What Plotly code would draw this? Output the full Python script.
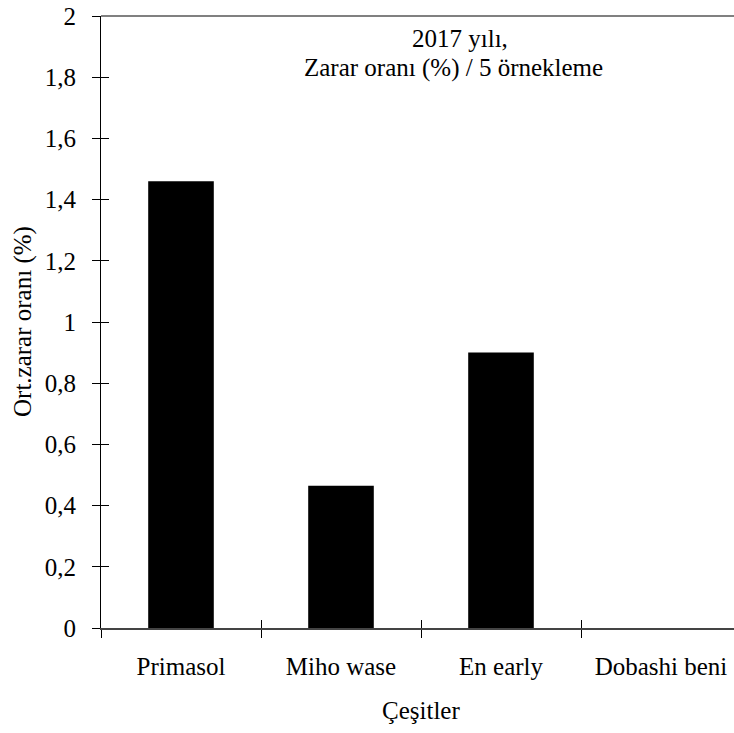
import plotly.graph_objects as go

categories = ["Primasol", "Miho wase", "En early", "Dobashi beni"]
values = [1.46, 0.465, 0.90, 0.0]
y_ticks = [0, 0.2, 0.4, 0.6, 0.8, 1.0, 1.2, 1.4, 1.6, 1.8, 2.0]
y_ticktext = ["0", "0,2", "0,4", "0,6", "0,8", "1", "1,2", "1,4", "1,6", "1,8", "2"]
annot_line1 = "2017 yılı,"
annot_line2 = "Zarar oranı (%) / 5 örnekleme"
y_title = "Ort.zarar oranı (%)"
x_title = "Çeşitler"

W, H = 734, 733
ML, MT = 101, 16
MB = H - 628
cat_px = 160.0
plot_w = W - ML
plot_h = H - MT - MB
x_range = [-0.5, -0.5 + plot_w / cat_px]
y_range = [0, 2]
FONT = dict(family="Liberation Serif, Times New Roman, serif", size=25, color="black")


def px_x(sx):
    return (sx - ML) / plot_w


def px_y(sy):
    return 1 - (sy - MT) / plot_h


fig = go.Figure()
fig.add_trace(go.Bar(x=categories, y=values, width=0.41,
                     marker=dict(color="black", line=dict(width=0)),
                     showlegend=False, hoverinfo="skip"))
# invisible copy on overlay axes to draw the inner half of the crossing ticks
fig.add_trace(go.Bar(x=categories, y=values, width=0.41, opacity=0,
                     xaxis="x2", yaxis="y2", showlegend=False, hoverinfo="skip"))

fig.update_layout(
    template="none",
    width=W, height=H,
    margin=dict(l=ML, r=0, t=MT, b=MB, pad=0, autoexpand=False),
    paper_bgcolor="white", plot_bgcolor="white",
    font=FONT,
    xaxis=dict(type="category", categoryorder="array", categoryarray=categories,
               range=x_range, tickson="boundaries", ticks="outside", ticklen=8,
               tickwidth=1, tickcolor="black", showline=True, linecolor="#444444",
               linewidth=2, showgrid=False, zeroline=False, tickfont=FONT,
               ticklabelstandoff=15, ticklabeloverflow="allow", automargin=False),
    yaxis=dict(range=y_range, tickvals=y_ticks, ticktext=y_ticktext,
               ticks="outside", ticklen=8, tickwidth=1, tickcolor="black",
               showline=True, linecolor="black", linewidth=1, showgrid=False,
               zeroline=False, tickfont=FONT, ticklabelstandoff=11,
               ticklabeloverflow="allow", automargin=False),
    xaxis2=dict(type="category", categoryorder="array", categoryarray=categories,
                range=x_range, overlaying="x", anchor="y2", side="bottom",
                tickson="boundaries", ticks="inside", ticklen=8, tickwidth=1,
                tickcolor="black", showticklabels=False, showline=False,
                showgrid=False, zeroline=False, automargin=False),
    yaxis2=dict(range=y_range, tickvals=y_ticks, overlaying="y", anchor="x2",
                side="left", ticks="inside", ticklen=8, tickwidth=1,
                tickcolor="black", showticklabels=False, showline=False,
                showgrid=False, zeroline=False, automargin=False),
    shapes=[dict(type="line", xref="x domain", yref="y domain", x0=0, x1=1,
                 y0=1, y1=1, line=dict(color="#808080", width=2), layer="below")],
    annotations=[
        dict(text=annot_line1, xref="paper", yref="paper",
             x=px_x(460), y=px_y(39), xanchor="center", yanchor="middle",
             showarrow=False, font=FONT),
        dict(text=annot_line2, xref="paper", yref="paper",
             x=px_x(454), y=px_y(68), xanchor="center", yanchor="middle",
             showarrow=False, font=FONT),
        dict(text=y_title, xref="paper", yref="paper",
             x=px_x(23), y=px_y(322), xanchor="center", yanchor="middle",
             textangle=-90, showarrow=False, font=FONT),
        dict(text=x_title, xref="paper", yref="paper",
             x=px_x(421), y=px_y(710), xanchor="center", yanchor="middle",
             showarrow=False, font=FONT),
    ],
)

# remove the default page margin so the figure sits at the window's top-left corner
fig.write_html(
    "out.html",
    config={"displayModeBar": False},
    post_script="document.body.style.margin='0';document.body.style.overflow='hidden';",
)
